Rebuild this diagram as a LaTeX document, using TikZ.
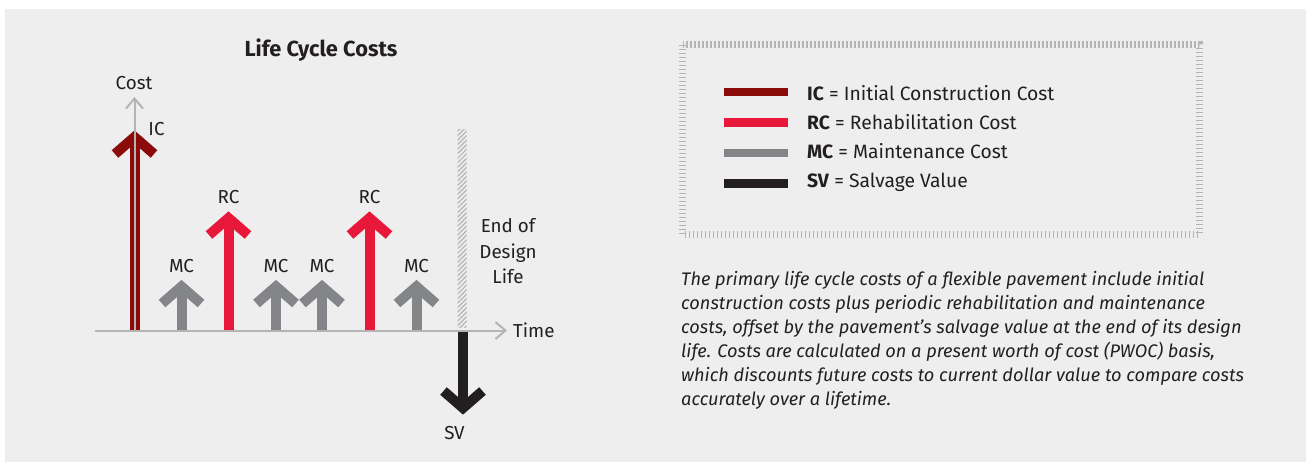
\documentclass[tikz,border=0pt]{standalone}
\usepackage{fontspec}
\setmainfont{Fira Sans}
\usetikzlibrary{arrows.meta,patterns.meta}
\definecolor{bggray}{RGB}{238,238,238}
\definecolor{icred}{RGB}{139,10,10}
\definecolor{rcred}{RGB}{232,24,58}
\definecolor{mcgray}{RGB}{132,133,136}
\definecolor{svblack}{RGB}{35,31,32}
\definecolor{axisgray}{RGB}{180,180,180}
\definecolor{textdark}{RGB}{35,31,32}
\begin{document}
\begin{tikzpicture}[x=1pt, y=-1pt,
    lbl/.style={text=textdark, inner sep=0pt, font=\fontsize{18.8}{25.5}\selectfont},
    legtext/.style={lbl, anchor=base west, font=\fontsize{19.3}{22}\selectfont},
    shaft/.style={line width=10},
    head/.style={line width=10, line join=miter},
    axisline/.style={draw=axisgray, line width=2, -{Straight Barb[length=10pt, width=17pt]}}]
        % Page and background
        \useasboundingbox (0,0) rectangle (1306,462);
        \fill[bggray] (5,9) rectangle (1306,462);

        % Title
        \node[lbl, font=\fontsize{21.8}{24}\selectfont\bfseries] (title) at (321,50) {Life Cycle Costs};

        % Initial construction (dark red)
        \draw[shaft, icred] (134.5,330) -- (134.5,137);
        \draw[head, icred] (115,154) -- (134.5,137) -- (154,154);
        \node[lbl] (ic) at (156.5,129) {IC};

        % Cost axis
        \draw[axisline] (134.5,331) -- (134.5,97);
        \node[lbl] (cost) at (134,83) {Cost};

        % Maintenance (gray)
        \draw[shaft, mcgray] (181.5,330) -- (181.5,286.5);
        \draw[head, mcgray] (162,303.5) -- (181.5,286.5) -- (201,303.5);
        \node[lbl] (mc1) at (181.5,266) {MC};
        \draw[shaft, mcgray] (276,330) -- (276,286.5);
        \draw[head, mcgray] (256.5,303.5) -- (276,286.5) -- (295.5,303.5);
        \node[lbl] (mc2) at (276,266) {MC};
        \draw[shaft, mcgray] (322,330) -- (322,286.5);
        \draw[head, mcgray] (302.5,303.5) -- (322,286.5) -- (341.5,303.5);
        \node[lbl] (mc3) at (322,266) {MC};
        \draw[shaft, mcgray] (416.5,330) -- (416.5,286.5);
        \draw[head, mcgray] (397,303.5) -- (416.5,286.5) -- (436,303.5);
        \node[lbl] (mc4) at (416.5,266) {MC};

        % Rehabilitation (red)
        \draw[shaft, rcred] (228.5,330) -- (228.5,218);
        \draw[head, rcred] (209,235) -- (228.5,218) -- (248,235);
        \node[lbl] (rc1) at (228.5,197.5) {RC};
        \draw[shaft, rcred] (369.5,330) -- (369.5,218);
        \draw[head, rcred] (350,235) -- (369.5,218) -- (389,235);
        \node[lbl] (rc2) at (369.5,197.5) {RC};

        % End of design life (hatched bar)
        \fill[pattern={Lines[angle=45, distance=3.2pt, line width=1.2pt]}, pattern color=axisgray]
            (457.5,130) rectangle (466.5,327);
        \node[lbl, align=center] (eodl) at (508,251.3) {End of\\Design\\Life};

        % Salvage value (black, downwards)
        \draw[shaft, svblack] (463,331) -- (463,408);
        \draw[head, svblack] (443.5,391) -- (463,408) -- (482.5,391);
        \node[lbl] (sv) at (454.5,433) {SV};

        % Time axis
        \draw[axisline] (95,330.5) -- (507,330.5);
        \node[lbl, anchor=west] (time) at (513,330.5) {Time};

        % Legend box
        \draw[draw=axisgray, line width=7, dash pattern=on 1.3 off 2.7] (682.5,45) rectangle (1199.5,234.5);
        \fill[icred] (724,87.8) rectangle (788,96.2);
        \fill[rcred] (724,118.3) rectangle (788,126.7);
        \fill[mcgray] (724,148.8) rectangle (788,157.2);
        \fill[svblack] (724,179.3) rectangle (788,187.7);
        \node[legtext] (legic) at (807,100.5) {\textbf{IC} = Initial Construction Cost};
        \node[legtext] (legrc) at (807,129.5) {\textbf{RC} = Rehabilitation Cost};
        \node[legtext] (legmc) at (807,158.5) {\textbf{MC} = Maintenance Cost};
        \node[legtext] (legsv) at (807,188) {\textbf{SV} = Salvage Value};

        % Caption
        \node[lbl, anchor=north west, align=left, font=\fontsize{18.2}{24}\selectfont\itshape] (caption) at (681,271.2)
            {The primary life cycle costs of a flexible pavement include initial\\
             construction costs plus periodic rehabilitation and maintenance\\
             costs, offset by the pavement’s salvage value at the end of its design\\
             life. Costs are calculated on a present worth of cost (PWOC) basis,\\
             which discounts future costs to current dollar value to compare costs\\
             accurately over a lifetime.};
    \end{tikzpicture}
\end{document}
